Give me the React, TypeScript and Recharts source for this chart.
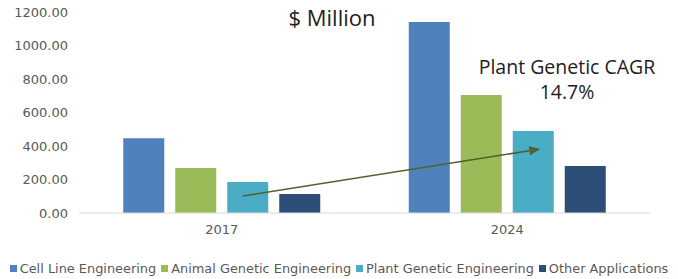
import React from 'react';
import { BarChart, Bar, XAxis, YAxis, Legend, ReferenceLine } from 'recharts';

const categories = ['2017', '2024'];
const cellLine = [447, 1140];
const animalGenetic = [269, 704];
const plantGenetic = [185, 490];
const otherApps = [113, 281];
const yTicks = [0, 200, 400, 600, 800, 1000, 1200];

const seriesNames = ['Cell Line Engineering', 'Animal Genetic Engineering', 'Plant Genetic Engineering', 'Other Applications'];
const seriesColors = ['#4f81bd', '#9bbb59', '#4bacc6', '#2c4d75'];

const arrowStart = { x: '2017', y: 101 };
const arrowEnd = { x: '2024', y: 382 };

const data = categories.map((c, i) => ({
  year: c,
  cell: cellLine[i],
  animal: animalGenetic[i],
  plant: plantGenetic[i],
  other: otherApps[i],
}));

const keys = ['cell', 'animal', 'plant', 'other'];

const tickStyle = { fontFamily: 'DejaVu Sans', fontSize: 13, fill: '#595959' };

const ArrowShape = (props: any) => {
  const x1 = props.x1 + 21;
  const y1 = props.y1;
  const x2 = props.x2 + 33;
  const y2 = props.y2;
  const ang = Math.atan2(y2 - y1, x2 - x1);
  const L = 11;
  const W = 4.5;
  const bx = x2 - L * Math.cos(ang);
  const by = y2 - L * Math.sin(ang);
  const px = -Math.sin(ang) * W;
  const py = Math.cos(ang) * W;
  return (
    <g>
      <line x1={x1} y1={y1} x2={bx} y2={by} stroke="#4f6228" strokeWidth={1.5} />
      <polygon points={`${x2},${y2} ${bx + px},${by + py} ${bx - px},${by - py}`} fill="#4f6228" />
    </g>
  );
};

const LegendContent = () => (
  <div style={{ display: 'flex', justifyContent: 'center', paddingTop: 4, fontFamily: 'DejaVu Sans', fontSize: 12.9, color: '#595959', whiteSpace: 'nowrap' }}>
    {seriesNames.map((n, i) => (
      <span key={n} style={{ display: 'inline-flex', alignItems: 'center', marginRight: i < 3 ? 5 : 0 }}>
        <span style={{ display: 'inline-block', width: 7, height: 7, background: seriesColors[i], marginRight: 3 }} />
        {n}
      </span>
    ))}
  </div>
);

export default function App() {
  return (
    <div style={{ position: 'absolute', left: 0, top: 0, width: 678, height: 279, background: '#fff' }}>
      <BarChart
        width={678}
        height={279}
        data={data}
        margin={{ top: 12, right: 28, left: 0, bottom: 2 }}
        barCategoryGap="15.5%"
        barGap={11}
      >
        <XAxis
          dataKey="year"
          height={44}
          tickLine={false}
          axisLine={{ stroke: '#d9d9d9', strokeWidth: 1 }}
          tick={tickStyle}
          tickMargin={6}
        />
        <YAxis
          width={79}
          domain={[0, 1200]}
          ticks={yTicks}
          tickFormatter={(v: number) => v.toFixed(2)}
          axisLine={false}
          tickLine={false}
          tick={tickStyle}
          tickMargin={5}
        />
        {keys.map((k, i) => (
          <Bar key={k} dataKey={k} name={seriesNames[i]} fill={seriesColors[i]} isAnimationActive={false} />
        ))}
        <ReferenceLine segment={[arrowStart, arrowEnd]} shape={ArrowShape} ifOverflow="visible" />
        <Legend verticalAlign="bottom" height={20} content={LegendContent} wrapperStyle={{ left: 0, width: 678 }} />
      </BarChart>
      <div style={{ position: 'absolute', left: 232, width: 200, top: 6, textAlign: 'center', fontFamily: 'Open Sans', fontSize: 22, lineHeight: 1, color: '#222' }}>
        $ Million
      </div>
      <div style={{ position: 'absolute', left: 467, width: 200, top: 54, textAlign: 'center', fontFamily: 'Open Sans', fontSize: 19.5, lineHeight: '25px', color: '#222' }}>
        Plant Genetic CAGR
        <br />
        14.7%
      </div>
    </div>
  );
}
